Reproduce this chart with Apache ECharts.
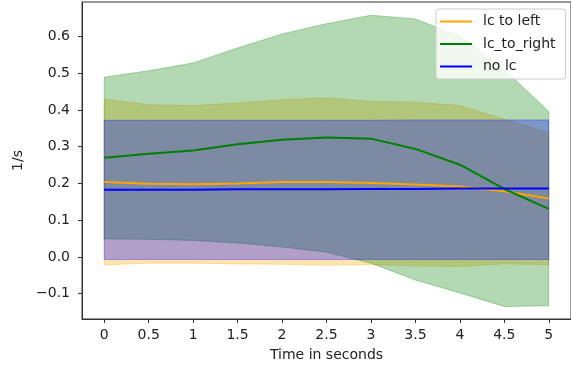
<!DOCTYPE html>
<html>
<head>
<meta charset="utf-8">
<script src="https://cdn.jsdelivr.net/npm/echarts@6/dist/echarts.min.js"></script>
<style>html,body{margin:0;padding:0;background:#fff}#c{width:571px;height:367px}</style>
</head>
<body>
<div id="c"></div>
<script>
const xs = [0, 0.5, 1, 1.5, 2, 2.5, 3, 3.5, 4, 4.5, 5];
const xTicks = [0, 0.5, 1, 1.5, 2, 2.5, 3, 3.5, 4, 4.5, 5];
const yTicks = [-0.1, 0, 0.1, 0.2, 0.3, 0.4, 0.5, 0.6];
const seriesNames = ['lc to left', 'lc_to_right', 'no lc'];

const leftMean  = [0.204, 0.199, 0.198, 0.200, 0.204, 0.204, 0.201, 0.197, 0.192, 0.179, 0.159];
const leftUpper = [0.430, 0.414, 0.412, 0.419, 0.428, 0.433, 0.423, 0.421, 0.412, 0.375, 0.338];
const leftLower = [-0.022, -0.017, -0.017, -0.019, -0.020, -0.023, -0.021, -0.024, -0.026, -0.019, -0.021];

const rightMean  = [0.270, 0.281, 0.290, 0.307, 0.319, 0.325, 0.322, 0.294, 0.251, 0.185, 0.131];
const rightUpper = [0.489, 0.507, 0.528, 0.569, 0.607, 0.635, 0.658, 0.648, 0.600, 0.510, 0.396];
const rightLower = [0.049, 0.048, 0.045, 0.038, 0.027, 0.013, -0.017, -0.063, -0.098, -0.135, -0.133];

const noMean  = [0.183, 0.183, 0.183, 0.184, 0.184, 0.184, 0.185, 0.185, 0.186, 0.186, 0.186];
const noUpper = [0.372, 0.372, 0.372, 0.372, 0.372, 0.372, 0.372, 0.373, 0.373, 0.373, 0.373];
const noLower = [-0.007, -0.007, -0.007, -0.007, -0.007, -0.007, -0.007, -0.007, -0.007, -0.007, -0.007];

const colors = ['#FFA500', '#008000', '#0000FF'];
const fillColors = ['rgba(255,165,0,0.3)', 'rgba(0,128,0,0.3)', 'rgba(0,0,255,0.3)'];
const FONT = 'DejaVu Sans';
const FS = 14;

function band(upper, lower, fill) {
  return {
    type: 'custom',
    silent: true,
    clip: true,
    z: 1,
    data: xs.map((x, i) => [x, upper[i], lower[i]]),
    renderItem: function (params, api) {
      if (params.dataIndex !== 0) return null;
      const pts = [];
      for (let i = 0; i < xs.length; i++) pts.push(api.coord([xs[i], upper[i]]));
      for (let i = xs.length - 1; i >= 0; i--) pts.push(api.coord([xs[i], lower[i]]));
      return {
        type: 'polygon',
        shape: { points: pts },
        style: { fill: fill, stroke: fill, lineWidth: 1 }
      };
    }
  };
}

function line(name, vals, color) {
  return {
    name: name,
    type: 'line',
    data: xs.map((x, i) => [x, vals[i]]),
    showSymbol: false,
    symbol: 'none',
    z: 3,
    lineStyle: { color: color, width: 2 },
    itemStyle: { color: color }
  };
}

const chart = echarts.init(document.getElementById('c'), null, { renderer: 'canvas' });
chart.setOption({
  animation: false,
  backgroundColor: '#fff',
  textStyle: { fontFamily: FONT },
  grid: { left: 82, right: -1, top: 2, bottom: 46, show: true, borderColor: '#333', borderWidth: 1, backgroundColor: 'transparent' },
  legend: {
    data: seriesNames,
    orient: 'vertical',
    left: 436,
    top: 9,
    padding: [5, 10, 5, 4],
    itemGap: 7.5,
    itemWidth: 32,
    itemHeight: 2,
    icon: 'rect',
    backgroundColor: 'rgba(255,255,255,0.8)',
    borderColor: '#cccccc',
    borderWidth: 1,
    borderRadius: 3,
    textStyle: { fontFamily: FONT, fontSize: FS, color: '#222', lineHeight: 15, padding: [0, 0, 0, 6] }
  },
  xAxis: {
    type: 'value',
    min: -0.25,
    max: 5.25,
    name: 'Time in seconds',
    nameLocation: 'middle',
    nameGap: 29,
    nameTextStyle: { fontFamily: FONT, fontSize: FS, color: '#222' },
    splitLine: { show: false },
    axisLine: { show: true, onZero: false, lineStyle: { color: '#333', width: 1 } },
    axisTick: { show: true, customValues: xTicks, length: 4, lineStyle: { color: '#333' } },
    axisLabel: { customValues: xTicks, margin: 9, fontFamily: FONT, fontSize: FS, color: '#222', formatter: v => String(v) }
  },
  yAxis: {
    type: 'value',
    min: -0.169,
    max: 0.694,
    name: '1/s',
    nameLocation: 'middle',
    nameRotate: 90,
    nameGap: 54,
    nameTextStyle: { fontFamily: FONT, fontSize: FS, color: '#222' },
    splitLine: { show: false },
    axisLine: { show: true, onZero: false, lineStyle: { color: '#333', width: 1 } },
    axisTick: { show: true, customValues: yTicks, length: 4, lineStyle: { color: '#333' } },
    axisLabel: { customValues: yTicks, margin: 12, fontFamily: FONT, fontSize: FS, color: '#222',
      formatter: v => (v < 0 ? '\u2212' : '') + Math.abs(v).toFixed(1) }
  },
  series: [
    band(leftUpper, leftLower, fillColors[0]),
    band(rightUpper, rightLower, fillColors[1]),
    band(noUpper, noLower, fillColors[2]),
    line(seriesNames[0], leftMean, colors[0]),
    line(seriesNames[1], rightMean, colors[1]),
    line(seriesNames[2], noMean, colors[2])
  ]
});
</script>
</body>
</html>
